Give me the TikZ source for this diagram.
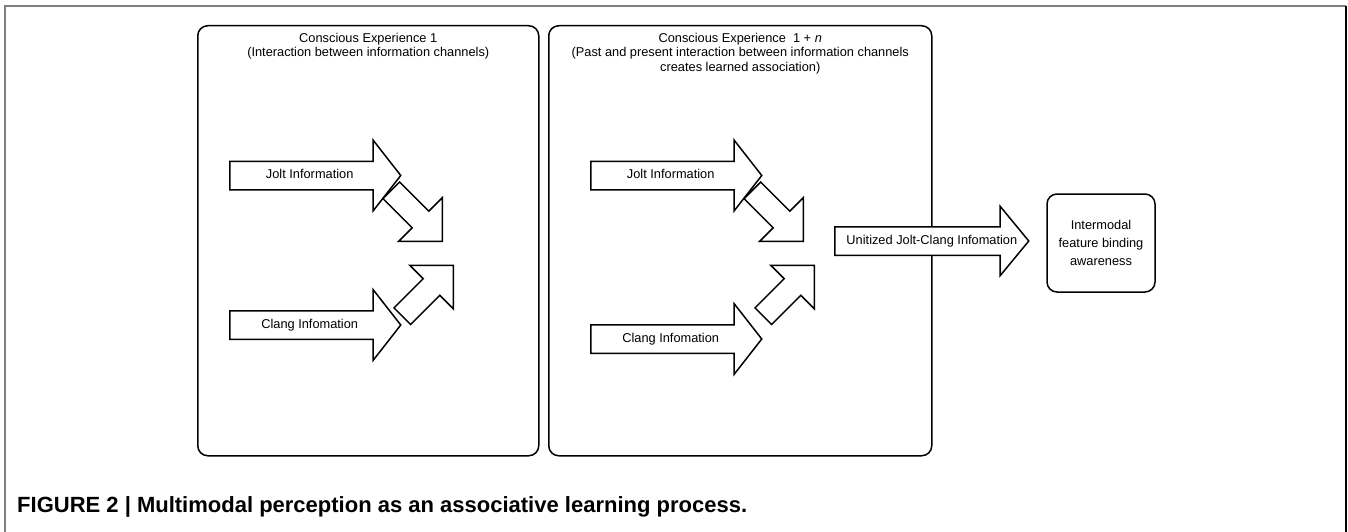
\documentclass[tikz,border=0pt]{standalone}
\usepackage{fontspec}
\setmainfont{Liberation Sans}
\usetikzlibrary{shapes.arrows,positioning,calc}
\tikzset{
  panel/.style={draw,line width=1.5pt,rounded corners=10pt,anchor=north west,inner sep=0pt},
  ttl/.style={align=center,inner sep=0pt,font=\fontsize{12.8}{14.5}\selectfont},
  blockarr/.style={single arrow,draw,fill=white,line width=1.5pt,inner xsep=2pt,inner ysep=7.5pt,
    text height=9pt,text depth=3pt,minimum height=171pt,minimum width=69pt,single arrow head extend=21pt,
    single arrow tip angle=104,anchor=tail,font=\fontsize{12.8}{14}\selectfont},
  diagarr/.style={single arrow,draw,fill=white,line width=1.5pt,inner xsep=0pt,inner ysep=11pt,
    minimum height=72pt,minimum width=60pt,single arrow head extend=19pt,
    single arrow tip angle=90,anchor=tip},
}
\begin{document}
\begin{tikzpicture}[x=1pt,y=-1pt]
\useasboundingbox (0,0) rectangle (1348,532);
% outer frame
\draw[black!50,line width=1.5pt] (5,532) -- (5,6) -- (1346,6);
\draw[line width=2pt] (1346,6) -- (1346,532);
% the two experiences
\node[panel,minimum width=341pt,minimum height=430pt] (expA) at (197,25) {};
\node[panel,minimum width=383pt,minimum height=430pt] (expB) at (548,25) {};
\node[ttl,below=8pt of expA.north] (ttlA) {Conscious Experience 1\\(Interaction between information channels)};
\node[ttl,below=8pt of expB.north] (ttlB) {Conscious Experience\ \ 1 + \textit{n}\\(Past and present interaction between information channels\\creates learned association)};
% channels in each experience
\foreach \dx/\cy/\p in {0/325/A,361/339/B}{
  \node[blockarr] (jolt\p) at (229+\dx,175.5) {Jolt Information};
  \node[blockarr] (clang\p) at (229+\dx,\cy) {Clang Infomation};
  \node[diagarr,rotate=-45] (joltd\p) at (443+\dx,242) {};
  \node[diagarr,rotate=45] (clangd\p) at (454+\dx,264.5) {};
}
% unitized channel and result
\node[blockarr,minimum height=194pt,minimum width=68pt,single arrow head extend=20.5pt,
  single arrow tip angle=101] (unit) at (834,241) {};
\node[font=\fontsize{12.8}{14}\selectfont] (unitlab) at ($(unit.tail)!0.5!(unit.tip)$) {Unitized Jolt-Clang Infomation};
\node[panel,anchor=center,minimum width=108pt,minimum height=98pt,align=center,
  font=\fontsize{12.8}{18}\selectfont] (bind) at (1101,243) {Intermodal\\feature binding\\awareness};
% caption
\node[anchor=west,inner sep=0pt,font=\bfseries\fontsize{22}{24}\selectfont] (cap) at (17,507) {FIGURE 2 | Multimodal perception as an associative learning process.};
\end{tikzpicture}
\end{document}
